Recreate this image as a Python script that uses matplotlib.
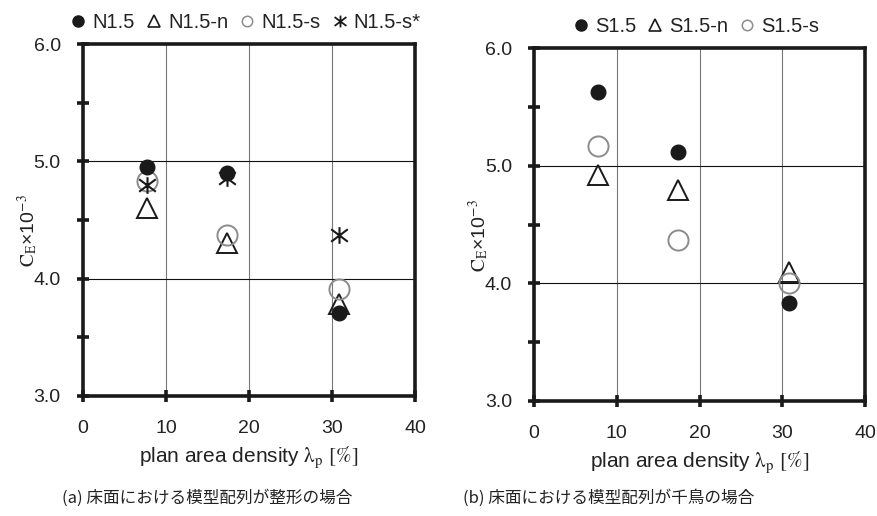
import numpy as np
import matplotlib
matplotlib.use("Agg")
import matplotlib.pyplot as plt
from matplotlib.path import Path
from matplotlib.lines import Line2D

plt.rcParams['font.family'] = ['Liberation Sans', 'Noto Sans CJK JP', 'DejaVu Sans']
plt.rcParams['mathtext.fontset'] = 'stix'

# data
lam = [7.7, 17.4, 30.8]

n15 = [4.95, 4.90, 3.71]
n15_n = [4.60, 4.30, 3.78]
n15_s = [4.83, 4.37, 3.91]
n15_s2 = [4.80, 4.86, 4.37]

s15 = [5.63, 5.12, 3.83]
s15_n = [4.92, 4.79, 4.10]
s15_s = [5.17, 4.37, 4.00]

xticks = [0, 10, 20, 30, 40]
yticks = [3.0, 4.0, 5.0, 6.0]
captions = ['(a) 床面における模型配列が整形の場合', '(b) 床面における模型配列が千鳥の場合']

# asterisk: vertical bar + X
star = Path([(0, -1), (0, 1), (-1, -0.75), (1, 0.75), (-1, 0.75), (1, -0.75)],
            [Path.MOVETO, Path.LINETO, Path.MOVETO, Path.LINETO, Path.MOVETO, Path.LINETO])

grey = '#8c8c8c'
fig = plt.figure(figsize=(8.77, 5.16), dpi=100)
ax1 = fig.add_axes([0.0946, 0.2326, 0.3786, 0.682])
ax2 = fig.add_axes([0.609, 0.2229, 0.3774, 0.684])


def style(ax):
    ax.set_xlim(0, 40)
    ax.set_ylim(3.0, 6.0)
    ax.set_xticks(xticks)
    ax.set_yticks(yticks)
    ax.set_yticks([3.5, 4.5, 5.5], minor=True)
    ax.set_yticklabels(['%.1f' % v for v in yticks])
    for s in ax.spines.values():
        s.set_linewidth(2.6)
        s.set_color('#1a1a1a')
    ax.tick_params(which='both', direction='inout', length=8, width=2.6, color='#1a1a1a',
                   labelsize=14, labelcolor='#222222')
    ax.tick_params(axis='x', pad=13)
    ax.tick_params(axis='y', which='major', pad=12)
    for v in [10, 20, 30]:
        ax.axvline(v, color='#777777', lw=0.8, zorder=0)
    for v in [4.0, 5.0]:
        ax.axhline(v, color='#111111', lw=0.8, zorder=0)
    ax.set_xlabel(r'plan area density $\mathrm{\lambda_p}$ $\mathrm{[\%]}$', fontsize=15,
                  family=['Liberation Sans Narrow', 'Liberation Sans'], labelpad=6,
                  color='#222222')
    ax.set_ylabel(r'$\mathrm{C_E}$×10$^{-3}$', fontsize=14, color='#222222')
    ax.yaxis.set_label_coords(-0.13, 0.47)


def pts(ax, y, kind, zo):
    if kind == 'filled':
        ax.plot(lam, y, 'o', ms=10.5, color='#1a1a1a', ls='none', zorder=zo)
    elif kind == 'tri':
        ax.plot(lam, y, '^', ms=14, mfc='none', mec='#1a1a1a', mew=1.4, ls='none', zorder=zo)
    elif kind == 'open':
        ax.plot(lam, y, 'o', ms=14.5, mfc='none', mec=grey, mew=1.4, ls='none', zorder=zo)
    else:
        ax.plot(lam, y, marker=star, ms=12, color='#1a1a1a', mew=1.5, ls='none', zorder=zo)


def legend(ax, labels, kinds, x0):
    handles = []
    for k in kinds:
        if k == 'filled':
            handles.append(Line2D([], [], marker='o', ms=8, color='#1a1a1a', ls='none'))
        elif k == 'tri':
            handles.append(Line2D([], [], marker='^', ms=8, mfc='none', mec='#1a1a1a', mew=1.2, ls='none'))
        elif k == 'open':
            handles.append(Line2D([], [], marker='o', ms=7.5, mfc='none', mec=grey, mew=1.1, ls='none'))
        else:
            handles.append(Line2D([], [], marker=star, ms=8.5, color='#1a1a1a', mew=1.3, ls='none'))
    ax.legend(handles, labels, ncol=len(labels), loc='lower left', bbox_to_anchor=(x0, 1.0),
              frameon=False, fontsize=14.5, handlelength=0.8, handletextpad=0.3,
              columnspacing=0.55, borderaxespad=0.5, borderpad=0.1, labelcolor='#222222')


style(ax1)
pts(ax1, n15_n, 'tri', 3)
pts(ax1, n15_s, 'open', 4)
pts(ax1, n15_s2, 'star', 5)
pts(ax1, n15, 'filled', 6)
legend(ax1, ['N1.5', 'N1.5-n', 'N1.5-s', 'N1.5-s*'], ['filled', 'tri', 'open', 'star'], -0.075)

style(ax2)
pts(ax2, s15_n, 'tri', 3)
pts(ax2, s15_s, 'open', 4)
pts(ax2, s15, 'filled', 6)
legend(ax2, ['S1.5', 'S1.5-n', 'S1.5-s'], ['filled', 'tri', 'open'], 0.08)

fig.text(0.071, 0.026, captions[0], fontsize=12, family=['Noto Sans CJK JP'], color='#222222')
fig.text(0.528, 0.026, captions[1], fontsize=12, family=['Noto Sans CJK JP'], color='#222222')

fig.savefig('out.png', dpi=100)
